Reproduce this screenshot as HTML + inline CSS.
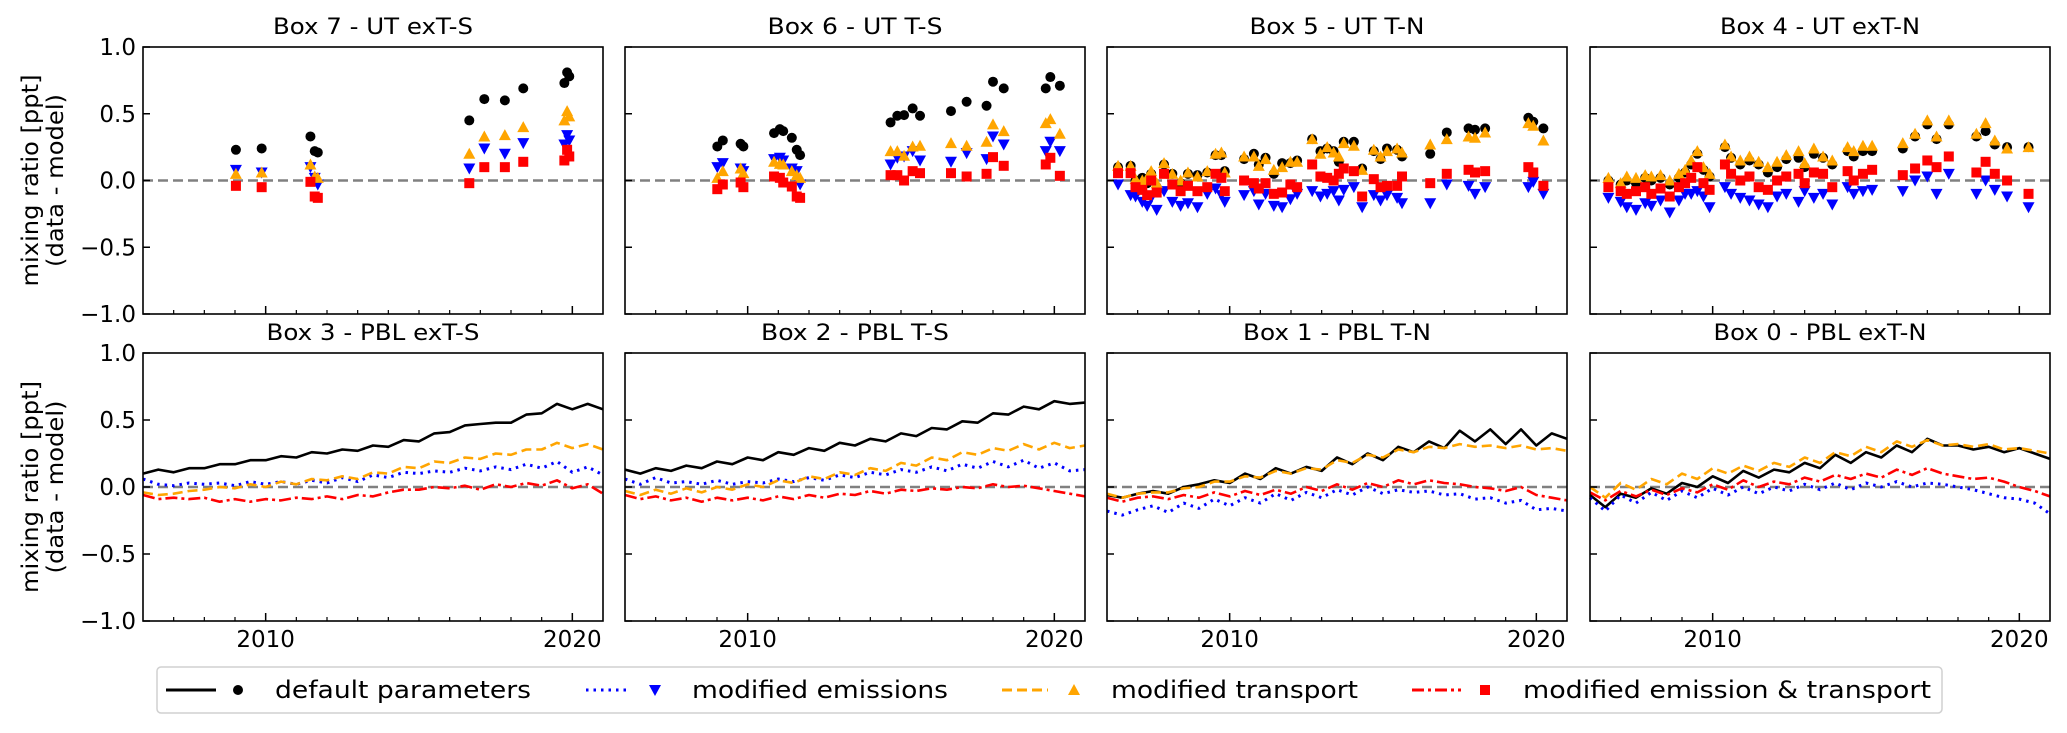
<!DOCTYPE html>
<html><head><meta charset="utf-8"><style>
html,body{margin:0;padding:0;background:#fff;}
svg{display:block;font-family:"DejaVu Sans","Liberation Sans",sans-serif;}
</style></head><body>
<svg id="fig" width="2067" height="733" viewBox="0 0 2067 733" xmlns="http://www.w3.org/2000/svg"></svg>
<script>
// ---------- data ----------
const lineYears = [2006,2006.5,2007,2007.5,2008,2008.5,2009,2009.5,2010,2010.5,2011,2011.5,2012,2012.5,2013,2013.5,2014,2014.5,2015,2015.5,2016,2016.5,2017,2017.5,2018,2018.5,2019,2019.5,2020,2020.5,2021];
const box3Default = [.10,.13,.11,.14,.14,.17,.17,.20,.20,.23,.22,.26,.25,.28,.27,.31,.30,.35,.34,.40,.41,.46,.47,.48,.48,.54,.55,.62,.58,.62,.58];
const box3Trans = [-.04,-.06,-.05,-.03,-.02,.0,-.01,.02,.0,.04,.02,.06,.05,.08,.06,.11,.10,.15,.14,.19,.18,.22,.21,.25,.24,.28,.28,.33,.29,.32,.28];
const box3Emis = [.06,.02,.01,.03,.02,.03,.01,.04,.02,.04,.02,.05,.03,.07,.04,.09,.07,.11,.10,.12,.11,.14,.12,.15,.13,.17,.14,.19,.11,.15,.09];
const box3Both = [-.06,-.09,-.08,-.09,-.08,-.11,-.09,-.11,-.09,-.10,-.08,-.09,-.07,-.09,-.06,-.07,-.04,-.02,-.02,.0,-.01,.01,-.02,.02,.0,.03,.01,.05,-.01,.02,-.05];
const box2Default = [.13,.10,.14,.12,.16,.14,.19,.17,.22,.20,.26,.24,.29,.27,.33,.31,.36,.34,.40,.38,.44,.43,.49,.48,.55,.54,.60,.58,.64,.62,.63];
const box2Trans = [-.03,-.06,-.02,-.05,-.01,-.04,.0,-.02,.02,.0,.05,.03,.08,.06,.11,.09,.14,.12,.18,.16,.22,.20,.26,.24,.29,.27,.32,.28,.33,.29,.31];
const box2Emis = [.06,.02,.07,.03,.04,.02,.05,.02,.04,.03,.06,.04,.07,.05,.09,.07,.11,.09,.13,.11,.15,.12,.17,.14,.19,.15,.20,.14,.18,.12,.13];
const box2Both = [-.06,-.09,-.07,-.10,-.08,-.11,-.08,-.10,-.08,-.10,-.07,-.09,-.06,-.08,-.05,-.06,-.03,-.05,-.02,-.03,-.01,-.02,.0,-.01,.02,.0,.01,-.01,-.03,-.05,-.07];
const box1Default = [-.06,-.08,-.05,-.03,-.05,.0,.02,.05,.03,.10,.06,.14,.10,.15,.12,.22,.17,.25,.20,.30,.26,.34,.29,.42,.34,.43,.32,.43,.31,.40,.36];
const box1Trans = [-.05,-.08,-.05,-.04,-.04,-.01,.0,.04,.04,.08,.07,.12,.10,.14,.13,.20,.18,.24,.22,.28,.26,.30,.29,.32,.30,.31,.29,.31,.28,.29,.27];
const box1Both = [-.08,-.11,-.08,-.07,-.09,-.06,-.08,-.04,-.07,-.03,-.06,-.02,-.05,.0,-.03,.02,-.02,.03,.0,.05,.02,.05,.03,.02,.0,-.01,-.03,.0,-.06,-.08,-.10];
const box1Emis = [-.18,-.21,-.17,-.14,-.19,-.12,-.16,-.09,-.14,-.08,-.12,-.05,-.10,-.04,-.08,-.02,-.06,.0,-.05,-.02,-.04,-.03,-.06,-.05,-.09,-.08,-.12,-.10,-.17,-.16,-.18];
const box0Default = [-.06,-.15,-.05,-.08,-.01,-.05,.03,.0,.08,.03,.12,.07,.13,.11,.18,.14,.24,.18,.26,.22,.31,.26,.36,.31,.31,.28,.30,.26,.29,.25,.21];
const box0Trans = [.0,-.08,.03,-.02,.06,.02,.10,.06,.14,.10,.16,.12,.18,.15,.22,.18,.26,.23,.30,.26,.34,.30,.35,.31,.32,.30,.32,.28,.29,.27,.25];
const box0Both = [-.04,-.10,-.03,-.07,-.02,-.06,-.01,-.04,.02,-.02,.05,.0,.04,.02,.07,.04,.09,.06,.10,.07,.13,.09,.14,.10,.08,.06,.07,.04,.0,-.03,-.07];
const box0Emis = [-.08,-.18,-.06,-.12,-.04,-.10,-.03,-.08,-.01,-.06,.0,-.05,.0,-.03,.02,-.02,.03,-.02,.03,.0,.04,.0,.03,.02,.0,-.02,-.05,-.08,-.09,-.12,-.20];

// scatter (upper troposphere)
const box7Years = [2009.03,2009.87,2011.46,2011.6,2011.7,2016.64,2017.13,2017.8,2018.4,2019.74,2019.83,2019.9];
const box7Default = [.23,.24,.33,.22,.21,.45,.61,.60,.69,.73,.81,.78];
const box7Emis = [.08,.06,.10,.02,-.03,.09,.24,.20,.28,.27,.34,.30];
const box7Trans = [.05,.06,.12,.03,.02,.20,.33,.34,.40,.45,.52,.48];
const box7Both = [-.04,-.05,-.01,-.12,-.13,-.02,.10,.10,.14,.15,.23,.18];

const box6Years = [2009.01,2009.19,2009.77,2009.86,2010.86,2011.05,2011.16,2011.44,2011.6,2011.71,2014.66,2014.88,2015.1,2015.38,2015.62,2016.63,2017.14,2017.79,2018.0,2018.35,2019.72,2019.87,2020.18];
const box6Default = [.255,.30,.275,.255,.355,.385,.37,.32,.23,.19,.435,.485,.49,.54,.485,.52,.59,.56,.74,.69,.69,.775,.71];
const box6Emis = [.10,.13,.09,.07,.16,.17,.15,.09,.07,-.03,.12,.17,.18,.22,.15,.14,.205,.16,.33,.27,.22,.29,.22];
const box6Trans = [.02,.07,.09,.055,.14,.125,.12,.07,.04,.02,.22,.22,.185,.255,.26,.28,.26,.29,.42,.37,.43,.46,.35];
const box6Both = [-.065,-.03,-.015,-.05,.03,.02,-.015,-.045,-.12,-.13,.04,.04,.0,.07,.055,.055,.03,.05,.175,.11,.12,.17,.035];

const box5Years = [2006.36,2006.77,2006.93,2007.15,2007.31,2007.44,2007.62,2007.86,2008.13,2008.4,2008.64,2008.95,2009.27,2009.54,2009.73,2009.84,2010.47,2010.79,2010.95,2011.17,2011.44,2011.71,2011.98,2012.2,2012.69,2012.96,2013.18,2013.39,2013.56,2013.72,2014.05,2014.32,2014.7,2014.92,2015.13,2015.46,2015.62,2016.54,2017.08,2017.79,2018.0,2018.33,2019.74,2019.9,2020.23];
const box5Default = [.10,.11,.0,.02,-.02,.05,-.05,.12,.05,-.02,.05,.04,.06,.19,.19,.07,.16,.20,.12,.17,.05,.13,.13,.15,.31,.22,.24,.22,.14,.29,.29,.09,.22,.16,.24,.23,.18,.20,.36,.39,.38,.39,.47,.44,.39];
const box5Trans = [.11,.11,.01,.0,.02,.07,-.02,.13,.05,.0,.06,.03,.07,.20,.21,.06,.18,.18,.11,.16,.08,.10,.14,.14,.31,.20,.25,.21,.18,.28,.26,.08,.23,.18,.22,.24,.21,.27,.31,.33,.32,.36,.43,.41,.30];
const box5Both = [.055,.055,-.05,-.07,-.11,.0,-.09,.05,-.03,-.08,-.04,-.08,-.05,.05,.02,-.08,.0,-.02,-.06,-.02,-.10,-.09,-.03,-.05,.12,.03,.02,.0,.05,.09,.07,-.12,.01,-.05,-.04,-.04,.03,-.02,.05,.08,.06,.07,.10,.06,-.04];
const box5Emis = [-.03,-.11,-.12,-.16,-.19,-.13,-.22,-.08,-.16,-.19,-.17,-.20,-.10,-.06,-.11,-.16,-.11,-.08,-.18,-.10,-.19,-.20,-.14,-.10,-.08,-.12,-.10,-.08,-.15,-.07,-.05,-.20,-.11,-.15,-.11,-.13,-.17,-.17,-.03,-.04,-.10,-.05,-.05,-.01,-.10];

const box4Years = [2006.6,2007.0,2007.2,2007.5,2007.8,2008.0,2008.3,2008.6,2008.9,2009.1,2009.3,2009.5,2009.7,2009.9,2010.4,2010.6,2010.9,2011.2,2011.5,2011.8,2012.1,2012.4,2012.8,2013.0,2013.3,2013.6,2013.9,2014.4,2014.6,2014.9,2015.2,2016.2,2016.6,2017.0,2017.3,2017.7,2018.6,2018.9,2019.2,2019.6,2020.3];
const box4Default = [.0,-.03,.0,-.02,.02,.0,.02,-.03,.02,.06,.12,.20,.08,.03,.25,.17,.12,.15,.12,.06,.10,.16,.17,.10,.20,.17,.12,.22,.18,.22,.22,.24,.33,.42,.31,.42,.33,.37,.27,.25,.25];
const box4Trans = [.02,-.02,.03,.02,.04,.03,.04,.0,.05,.08,.15,.22,.10,.05,.27,.18,.15,.18,.14,.10,.14,.19,.22,.13,.24,.18,.15,.25,.22,.26,.26,.28,.35,.45,.33,.45,.35,.43,.30,.24,.25];
const box4Both = [-.05,-.08,-.10,-.08,-.05,-.10,-.06,-.12,-.05,-.02,.02,.10,-.02,-.07,.12,.05,.0,.03,-.05,-.07,.0,.03,.05,-.02,.06,.05,-.05,.07,.0,.05,.08,.04,.09,.15,.10,.18,.06,.14,.05,.0,-.10];
const box4Emis = [-.13,-.16,-.20,-.22,-.17,-.19,-.15,-.24,-.15,-.10,-.10,-.08,-.12,-.20,-.05,-.10,-.13,-.15,-.18,-.20,-.12,-.10,-.16,-.08,-.13,-.10,-.18,-.05,-.10,-.08,-.07,-.08,.0,.03,-.10,.05,-.10,.0,-.07,-.12,-.20];

const yTicks = [-1.0,-0.5,0.0,0.5,1.0];
const yTickLabels = ["\u22121.0","\u22120.5","0.0","0.5","1.0"];
const xMajor = [2010,2020];
const xMinor = [2007,2008,2009,2011,2012,2013,2014,2015,2016,2017,2018,2019];

// ---------- layout ----------
const NS = "http://www.w3.org/2000/svg";
const svg = document.getElementById('fig');
const COLORS = {def:'#000000', emis:'#0000ff', trans:'#ffa500', both:'#ff0000'};
const DASH = {def:'', emis:'2.5 5', trans:'10 5', both:'12 4 3 4'};
const PW = 460, lefts = [143,625,1107,1590];
const rows = [{top:47,bot:314},{top:353,bot:621}];
const X0 = 2006, X1 = 2021;

function el(tag, attrs, parent){
  const e = document.createElementNS(NS, tag);
  for (const k in attrs) e.setAttribute(k, attrs[k]);
  (parent||svg).appendChild(e);
  return e;
}
function xs(p){ return y => p.left + (y - X0) / (X1 - X0) * PW; }
function ys(p){ return v => p.bot - (v + 1) / 2 * (p.bot - p.top); }

function marker(g, kind, cx, cy){
  let m;
  if (kind === 'def') m = el('circle', {cx:cx, cy:cy, r:5, fill:COLORS.def}, g);
  else if (kind === 'emis') m = el('polygon', {points:`${cx-6},${cy-5} ${cx+6},${cy-5} ${cx},${cy+6}`, fill:COLORS.emis}, g);
  else if (kind === 'trans') m = el('polygon', {points:`${cx-6},${cy+5} ${cx+6},${cy+5} ${cx},${cy-6}`, fill:COLORS.trans}, g);
  else m = el('rect', {x:cx-5, y:cy-5, width:10, height:10, fill:COLORS.both}, g);
  return m;
}

function panel(col, row, title, name){
  const p = {left:lefts[col], top:rows[row].top, bot:rows[row].bot};
  const g = el('g', {});
  
  
  const X = xs(p), Y = ys(p);
  const t = el('text', {x:p.left+PW/2, y:p.top-13, 'font-size':22, 'text-anchor':'middle', fill:'#000', textLength:(title.length*12.5).toFixed(0), lengthAdjust:'spacingAndGlyphs'}, g);
  t.textContent = title;
  
  
  const zl = el('line', {x1:p.left, x2:p.left+PW, y1:Y(0), y2:Y(0), stroke:'#808080', 'stroke-width':2.5, 'stroke-dasharray':'10 5'}, g);
  
  
  const plot = el('g', {}, g);
  
  
  yTicks.forEach((v,i)=>{
    const tk = el('line', {x1:p.left, x2:p.left+7, y1:Y(v), y2:Y(v), stroke:'#000', 'stroke-width':1.5}, g);
    
    
    if (col === 0){
      const lb = el('text', {x:p.left-7, y:Y(v)+8, 'font-size':23, 'text-anchor':'end', fill:'#000'}, g);
      lb.textContent = yTickLabels[i];
      
      
    }
  });
  xMajor.forEach(yr=>{
    const tk = el('line', {x1:X(yr), x2:X(yr), y1:p.bot, y2:p.bot-8, stroke:'#000', 'stroke-width':1.5}, g);
    
    
    if (row === 1){
      const lb = el('text', {x:X(yr), y:p.bot+26, 'font-size':23, 'text-anchor':'middle', fill:'#000'}, g);
      lb.textContent = String(yr);
      
      
    }
  });
  xMinor.forEach(yr=>{
    const tk = el('line', {x1:X(yr), x2:X(yr), y1:p.bot, y2:p.bot-4, stroke:'#000', 'stroke-width':1.2}, g);
    
    
  });
  const fr = el('rect', {x:p.left, y:p.top, width:PW, height:p.bot-p.top, fill:'none', stroke:'#000', 'stroke-width':1.6}, g);
  
  
  if (col === 0){
    const cy = (p.top+p.bot)/2;
    const a = el('text', {x:0, y:0, 'font-size':23, 'text-anchor':'middle', transform:`translate(38,${cy}) rotate(-90)`, textLength:212, lengthAdjust:'spacingAndGlyphs'}, g);
    a.textContent = 'mixing ratio [ppt]';
    
    
    const b = el('text', {x:0, y:0, 'font-size':23, 'text-anchor':'middle', transform:`translate(63,${cy}) rotate(-90)`, textLength:173, lengthAdjust:'spacingAndGlyphs'}, g);
    b.textContent = '(data - model)';
    
    
  }
  return {p, X, Y, g:plot};
}

function drawLine(P, years, vals, kind){
  const d = vals.map((v,i)=>(i?'L':'M')+P.X(years[i]).toFixed(1)+','+P.Y(v).toFixed(1)).join(' ');
  const path = el('path', {d:d, fill:'none', stroke:COLORS[kind], 'stroke-width': kind==='emis'?3:2.6, 'stroke-dasharray':DASH[kind], 'stroke-linejoin':'round'}, P.g);
  
  
}
function drawPts(P, years, vals, kind){
  const gg = el('g', {}, P.g);
  
  
  vals.forEach((v,i)=>{
    const m = marker(gg, kind, P.X(years[i]), P.Y(v));
    
    
  });
}

const scat = [
  ['Box 7 - UT exT-S','panel-box7',box7Years,box7Default,box7Emis,box7Trans,box7Both],
  ['Box 6 - UT T-S','panel-box6',box6Years,box6Default,box6Emis,box6Trans,box6Both],
  ['Box 5 - UT T-N','panel-box5',box5Years,box5Default,box5Emis,box5Trans,box5Both],
  ['Box 4 - UT exT-N','panel-box4',box4Years,box4Default,box4Emis,box4Trans,box4Both]
];
scat.forEach((s,c)=>{
  const P = panel(c, 0, s[0], s[1]);
  drawPts(P, s[2], s[3], 'def');
  drawPts(P, s[2], s[4], 'emis');
  drawPts(P, s[2], s[5], 'trans');
  drawPts(P, s[2], s[6], 'both');
});
const lines = [
  ['Box 3 - PBL exT-S','panel-box3',box3Default,box3Emis,box3Trans,box3Both],
  ['Box 2 - PBL T-S','panel-box2',box2Default,box2Emis,box2Trans,box2Both],
  ['Box 1 - PBL T-N','panel-box1',box1Default,box1Emis,box1Trans,box1Both],
  ['Box 0 - PBL exT-N','panel-box0',box0Default,box0Emis,box0Trans,box0Both]
];
lines.forEach((s,c)=>{
  const P = panel(c, 1, s[0], s[1]);
  drawLine(P, lineYears, s[2], 'def');
  drawLine(P, lineYears, s[3], 'emis');
  drawLine(P, lineYears, s[4], 'trans');
  drawLine(P, lineYears, s[5], 'both');
});

// legend
const lg = el('g', {});


el('rect', {x:157, y:667, width:1785, height:46, rx:4, fill:'#fff', stroke:'#d0d0d0', 'stroke-width':1.5}, lg);
const legendItems = [
  ['def', 166, 216, 238, 275, 'default parameters', 256],
  ['emis', 586, 630, 655, 692, 'modified emissions', 256],
  ['trans', 1002, 1048, 1074, 1111, 'modified transport', 247],
  ['both', 1412, 1461, 1485, 1523, 'modified emission & transport', 408]
];
legendItems.forEach(it=>{
  const g = el('g', {}, lg);
  
  
  el('line', {x1:it[1], x2:it[2], y1:690, y2:690, stroke:COLORS[it[0]], 'stroke-width': 3, 'stroke-dasharray':DASH[it[0]]}, g);
  marker(g, it[0], it[3], 690);
  const t = el('text', {x:it[4], y:698, 'font-size':24, fill:'#000', textLength:it[6], lengthAdjust:'spacingAndGlyphs'}, g);
  t.textContent = it[5];
});
</script>
</body></html>
